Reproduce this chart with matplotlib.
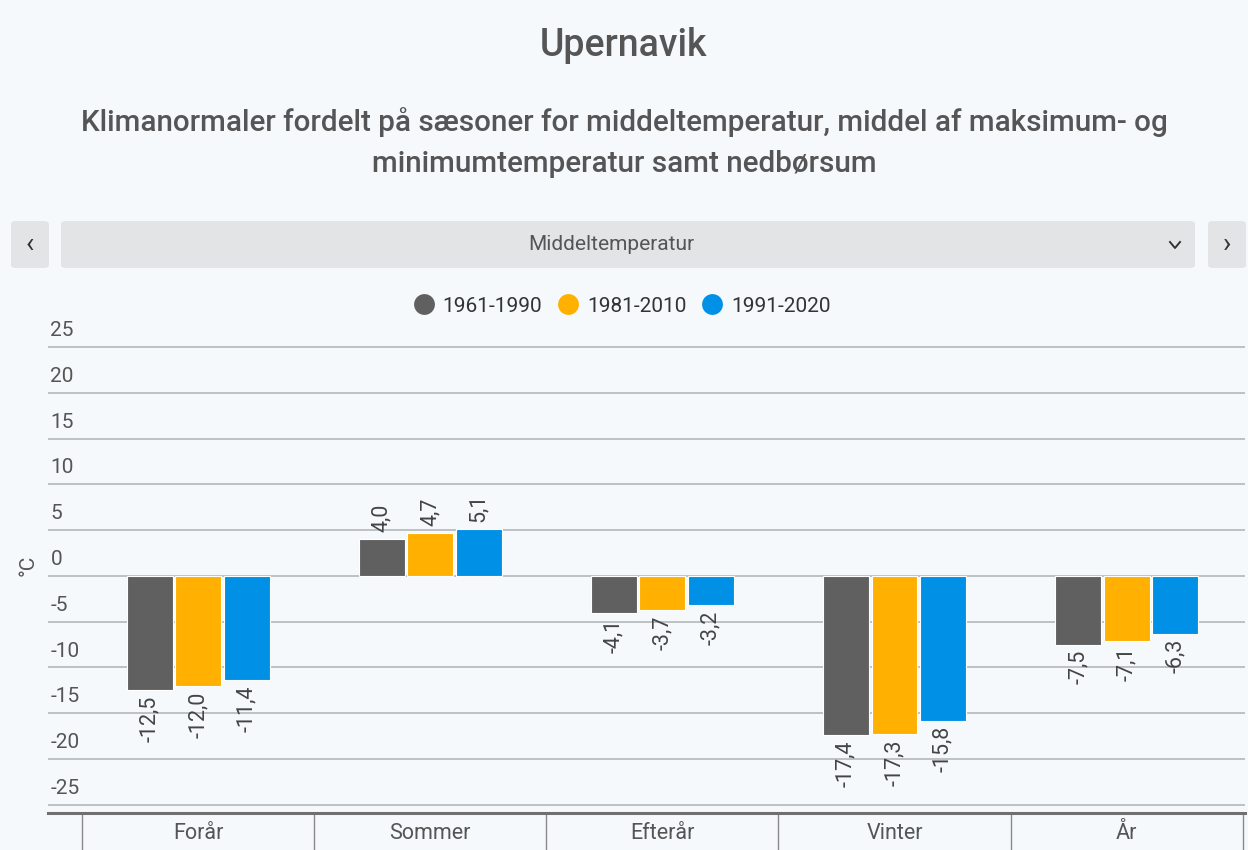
import matplotlib
matplotlib.use('Agg')
import matplotlib.pyplot as plt
import numpy as np
from matplotlib.patches import FancyBboxPatch
from matplotlib.lines import Line2D
import matplotlib.transforms as mtransforms

plt.rcParams['font.family'] = ['Roboto', 'DejaVu Sans']

# --- Data ---
saesoner = ['Forår', 'Sommer', 'Efterår', 'Vinter', 'År']
perioder = ['1961-1990', '1981-2010', '1991-2020']
t_1961_1990 = [-12.5, 4.0, -4.1, -17.4, -7.5]
t_1981_2010 = [-12.0, 4.7, -3.7, -17.3, -7.1]
t_1991_2020 = [-11.4, 5.1, -3.2, -15.8, -6.3]
y_ticks = [25, 20, 15, 10, 5, 0, -5, -10, -15, -20, -25]

farver = ['#606060', '#ffb000', '#0090e6']
BG = '#f5f9fc'
TXT = '#555555'

fig = plt.figure(figsize=(12.48, 8.5), dpi=100)
fig.patch.set_facecolor(BG)

# --- Titles ---
fig.text(0.5, 0.947, 'Upernavik', ha='center', va='center', fontsize=27,
         color=TXT, fontweight='medium')
fig.text(0.5, 0.832, 'Klimanormaler fordelt på sæsoner for middeltemperatur, middel af maksimum- og\n'
         'minimumtemperatur samt nedbørsum', ha='center', va='center', fontsize=21.3,
         color=TXT, fontweight='medium', linespacing=1.6)

# --- Dropdown bar ---
def boks(x0, y0, x1, y1):
    W, H = 1248, 850
    p = FancyBboxPatch((x0 / W, 1 - y1 / H), (x1 - x0) / W, (y1 - y0) / H,
                       boxstyle='round,pad=0,rounding_size=0.004',
                       transform=fig.transFigure, facecolor='#e3e4e6',
                       edgecolor='none', zorder=0)
    fig.patches.append(p)

boks(11, 221, 49, 268)
boks(61, 221, 1195, 268)
boks(1208, 221, 1246, 268)
fig.text(611 / 1248, 1 - 245 / 850, 'Middeltemperatur', ha='center', va='center',
         fontsize=15, color=TXT)
fig.text(30 / 1248, 1 - 245 / 850, '‹', ha='center', va='center', fontsize=20, color='#333333')
fig.text(1227 / 1248, 1 - 245 / 850, '›', ha='center', va='center', fontsize=20, color='#333333')
cx, cy = 1175 / 1248, 1 - 245 / 850
fig.lines.append(Line2D([cx - 5 / 1248, cx, cx + 5 / 1248],
                        [cy + 3 / 850, cy - 3 / 850, cy + 3 / 850],
                        transform=fig.transFigure, color='#333333', lw=1.4))

# --- Axes ---
ax = fig.add_axes([48 / 1248, 37 / 850, 1197 / 1248, (813 - 345.2) / 850])
ax.set_facecolor(BG)

x = np.arange(len(saesoner))
bredde = 0.198
afstand = 0.209
serier = [t_1961_1990, t_1981_2010, t_1991_2020]

for i, (vals, farve, navn) in enumerate(zip(serier, farver, perioder)):
    pos = x + (i - 1) * afstand
    ax.bar(pos, vals, width=bredde, color=farve, edgecolor='white', linewidth=0.8,
           label=navn, zorder=3)
    for px, v in zip(pos, vals):
        tekst = f'{v:.1f}'.replace('.', ',')
        if v >= 0:
            ax.text(px, v + 0.8, tekst, rotation=90, ha='center', va='bottom',
                    fontsize=15.5, color='#444444', zorder=4)
        else:
            ax.text(px, v - 0.6, tekst, rotation=90, ha='center', va='top',
                    fontsize=15.5, color='#444444', zorder=4)

ax.set_xlim(-0.647, 4.51)
ax.set_ylim(-25.9, 25.2)

for t in y_ticks:
    ax.axhline(t, color='#b9bdc0', lw=1.3, zorder=1)
    ax.text(0.002, t + 0.75, str(t), transform=mtransforms.blended_transform_factory(ax.transAxes, ax.transData),
            ha='left', va='bottom', fontsize=15, color=TXT)

ax.set_yticks([])
for s in ['top', 'right', 'left']:
    ax.spines[s].set_visible(False)
ax.spines['bottom'].set_color('#707070')
ax.spines['bottom'].set_linewidth(2.2)

ax.set_xticks(x)
ax.set_xticklabels(saesoner, fontsize=15.5, color=TXT)
ax.tick_params(axis='x', which='major', length=0, pad=7)
ax.set_xticks(np.arange(-0.5, 5.0, 1.0), minor=True)
ax.tick_params(axis='x', which='minor', length=27, width=1, color='#8a8a8a')

fig.text(28 / 1248, 1 - 565 / 850, '°C', rotation=90, ha='center', va='center',
         fontsize=15, color=TXT)

# --- Legend ---
leg = ax.legend(handles=[Line2D([], [], marker='o', ls='', markersize=15,
                                 markerfacecolor=f, markeredgecolor='none') for f in farver],
                labels=perioder, loc='center', bbox_to_anchor=(622 / 1248, 1 - 306 / 850),
                bbox_transform=fig.transFigure, ncol=3, frameon=False, fontsize=15,
                handletextpad=0.4, columnspacing=0.75, handlelength=1.0,
                labelcolor='#333333')

plt.savefig('out.png', dpi=100, facecolor=BG)
